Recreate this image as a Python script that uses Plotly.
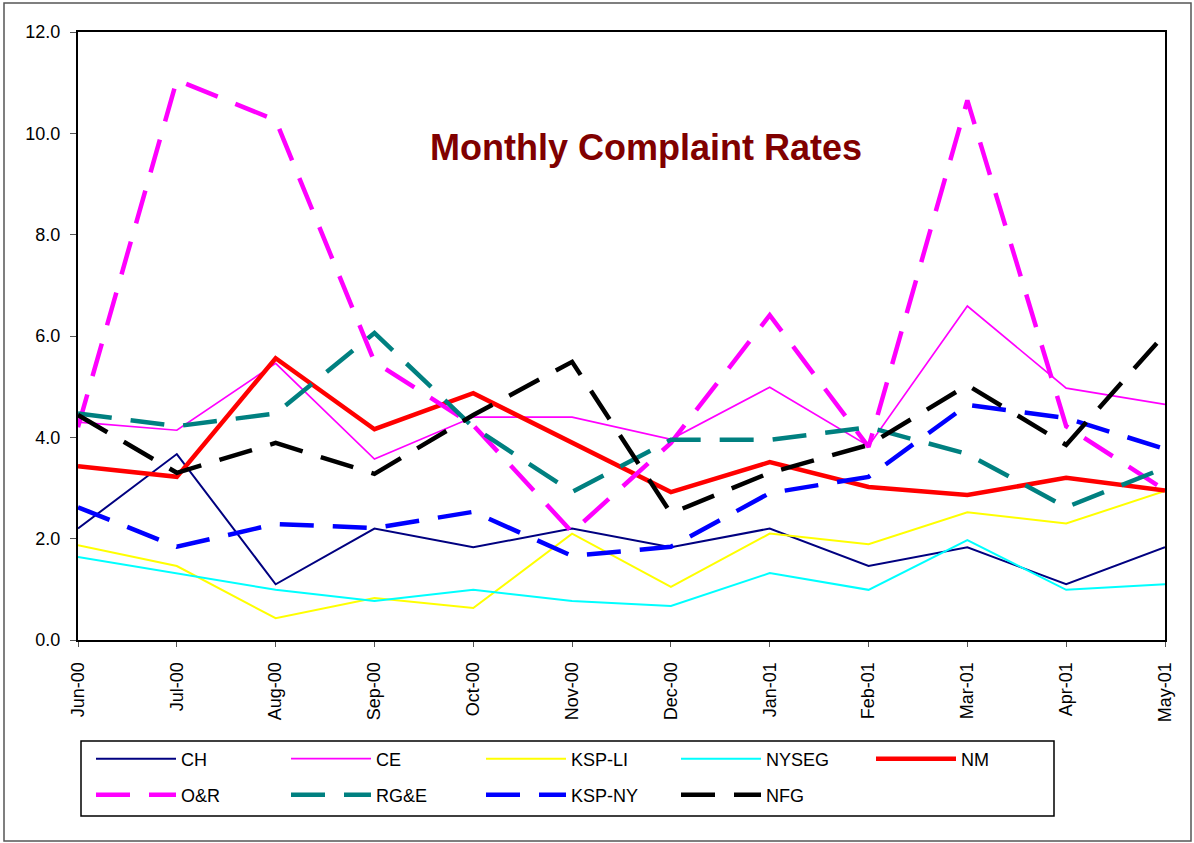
import plotly.graph_objects as go

months = ["Jun-00", "Jul-00", "Aug-00", "Sep-00", "Oct-00", "Nov-00",
          "Dec-00", "Jan-01", "Feb-01", "Mar-01", "Apr-01", "May-01"]

ch     = [2.20, 3.67, 1.10, 2.20, 1.83, 2.20, 1.83, 2.20, 1.46, 1.83, 1.10, 1.83]
ce     = [4.30, 4.14, 5.46, 3.57, 4.40, 4.40, 3.96, 4.99, 3.83, 6.59, 4.97, 4.65]
ksp_li = [1.87, 1.46, 0.43, 0.83, 0.63, 2.10, 1.05, 2.10, 1.89, 2.52, 2.30, 2.94]
nyseg  = [1.64, 1.32, 0.99, 0.77, 0.99, 0.77, 0.67, 1.32, 0.99, 1.97, 0.99, 1.10]
nm     = [3.43, 3.22, 5.56, 4.16, 4.87, 3.89, 2.92, 3.51, 3.02, 2.86, 3.20, 2.95]
o_r    = [4.20, 11.05, 10.26, 5.49, 4.24, 2.13, 3.89, 6.41, 3.81, 10.65, 4.22, 2.96]
rge    = [4.47, 4.22, 4.47, 6.06, 4.20, 2.92, 3.95, 3.95, 4.20, 3.67, 2.62, 3.40]
ksp_ny = [2.62, 1.84, 2.29, 2.21, 2.53, 1.66, 1.84, 2.90, 3.22, 4.64, 4.38, 3.77]
nfg    = [4.44, 3.30, 3.89, 3.28, 4.44, 5.49, 2.50, 3.30, 3.85, 5.03, 3.85, 6.04]

series = [
    ("CH", ch, "#000080", 2, "solid", "legend"),
    ("CE", ce, "#FF00FF", 1.7, "solid", "legend"),
    ("KSP-LI", ksp_li, "#FFFF00", 2, "solid", "legend"),
    ("NYSEG", nyseg, "#00FFFF", 2, "solid", "legend"),
    ("NM", nm, "#FF0000", 4.5, "solid", "legend"),
    ("O&R", o_r, "#FF00FF", 4.5, "34px,19px", "legend2"),
    ("RG&E", rge, "#008080", 4.5, "34px,19px", "legend2"),
    ("KSP-NY", ksp_ny, "#0000FF", 4.5, "34px,19px", "legend2"),
    ("NFG", nfg, "#000000", 4.5, "34px,19px", "legend2"),
]

FONT = "Arial, Liberation Sans, sans-serif"

fig = go.Figure()
for name, vals, color, width, dash, leg in series:
    fig.add_trace(go.Scatter(
        x=months, y=vals, mode="lines", name=name, legend=leg,
        line=dict(color=color, width=width, dash=dash),
    ))

W, H = 1194, 843
L, R, T, B = 78, 29, 32, 203
pw, ph = W - L - R, H - T - B

def px(x):
    return (x - L) / pw

def py(y):
    return (H - B - y) / ph

legend_common = dict(
    orientation="h", xanchor="left", yanchor="middle",
    entrywidth=100, entrywidthmode="pixels", itemwidth=80,
    bgcolor="rgba(0,0,0,0)", borderwidth=0,
    font=dict(family=FONT, size=18, color="#000000"),
    traceorder="normal",
)

fig.update_layout(
    width=W, height=H,
    margin=dict(l=L, r=R, t=T, b=B),
    paper_bgcolor="white", plot_bgcolor="white",
    font=dict(family=FONT, color="#000000"),
    showlegend=True,
    legend=dict(x=px(91), y=py(759), **legend_common),
    legend2=dict(x=px(91), y=py(795), **legend_common),
    xaxis=dict(
        type="category", range=[0, len(months) - 1],
        showline=True, linecolor="#000000", linewidth=2, mirror=True,
        ticks="outside", ticklen=5, tickcolor="#555555",
        ticklabelstandoff=8,
        tickangle=-90, tickfont=dict(family=FONT, size=18, color="#000000"),
        showgrid=False, zeroline=False,
    ),
    yaxis=dict(
        range=[0, 12], dtick=2, tickformat=".1f",
        showline=True, linecolor="#000000", linewidth=2, mirror=True,
        ticks="outside", ticklen=6, tickcolor="#555555",
        ticklabelstandoff=6,
        tickfont=dict(family=FONT, size=18, color="#000000"),
        showgrid=False, zeroline=False,
    ),
    annotations=[dict(
        text="<b>Monthly Complaint Rates</b>", xref="paper", yref="paper",
        x=px(646), y=py(147), xanchor="center", yanchor="middle",
        showarrow=False, font=dict(family=FONT, size=36, color="#800000"),
    )],
    shapes=[
        dict(type="rect", xref="paper", yref="paper",
             x0=px(81), x1=px(1054), y0=py(741), y1=py(816),
             line=dict(color="#000000", width=1.5), layer="below"),
        dict(type="rect", xref="paper", yref="paper",
             x0=px(4), x1=px(1191), y0=py(3), y1=py(841),
             line=dict(color="#555555", width=1.5), layer="below"),
    ],
)

fig.write_html("out.html", config={"displayModeBar": False},
               post_script="document.body.style.margin='0px';")
